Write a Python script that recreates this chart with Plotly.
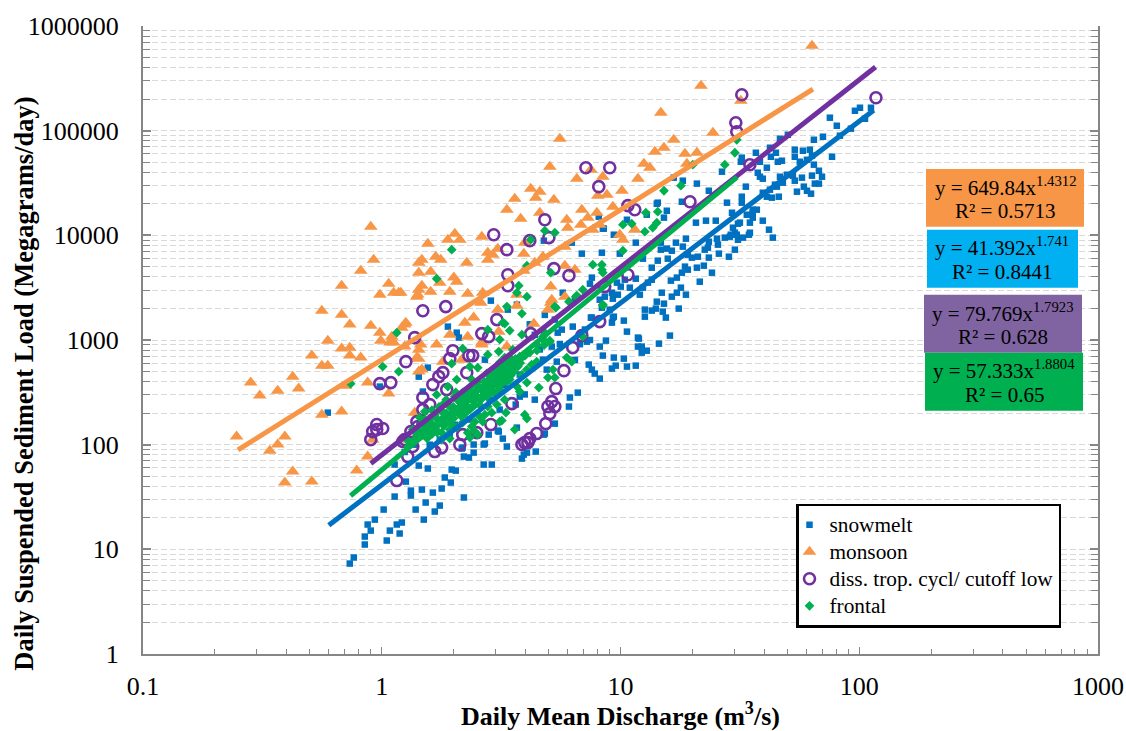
import plotly.graph_objects as go

# Values, as (log10 discharge, log10 load) decades on the log-log axes.
snowmelt = [(-.134,.864),(-.117,.922),(-.071,1.046),(-.071,1.122),(-.046,1.179),(-.059,1.237),(-.029,1.284),(.008,1.38),(.021,1.084),(.034,1.179),(.063,1.237),(.084,1.256),(.075,1.151),(.054,1.504),(.101,1.647),(.122,1.561),(.122,1.514),(.168,1.571),(.142,1.38),(.184,1.447),(.176,1.284),(.222,1.361),(.243,1.418),(.214,1.542),(.251,1.581),(.289,1.638),(.264,1.686),(.293,1.762),(.31,1.752),(.344,1.495),(.155,1.8),(.193,1.772),(.427,1.81),(.461,1.81),(.344,1.886),(.365,1.877),(.385,1.924),(.335,1.963),(.385,2.001),(.427,2.001),(.448,2.096),(.486,2.134),(.507,2.058),(.524,1.982),(.587,1.867),(.595,1.905),(.608,1.924),(.645,1.934),(.683,2.106),(.725,2.201),(.641,2.43),(.561,2.383),(.578,2.459),(.566,2.163),(.784,2.364),(.788,2.45),(.821,2.497),(.913,2.631),(.892,2.679),(.88,2.717),(.867,2.765),(.926,2.851),(.964,2.727),(.98,2.755),(.972,2.832),(1.014,2.822),(1.027,2.746),(1.064,2.755),(.913,2.937),(.939,2.994),(1.014,3.185),(1.027,3.08),(.972,3.223),(.964,3.166),(.876,3.214),(.8,3.128),(.859,2.984),(1.073,3.023),(1.073,2.937),(.155,2.65),(.193,2.736),(.277,3.128),(.314,3.07),(.323,3.023),(.432,2.812),(.457,3.376),(.528,3.29),(.566,3.338),(.172,2.507),(-.008,2.555),(-.226,2.306),
(.838,3.825),(.922,3.834),(.972,4.006),(1.064,3.93),(.93,4.064),(1.027,4.149),(1.156,4.312),(1.194,4.235),(1.182,4.169),(1.316,4.121),(1.358,4.14),(1.399,4.14),(1.446,4.312),(1.508,4.369),(1.508,4.312),(1.467,4.216),(1.5,4.121),(1.554,4.216),(1.542,4.025),(1.479,4.025),(1.458,3.987),(1.492,3.958),(1.437,3.978),(1.404,3.968),(1.37,3.939),(1.408,3.911),(1.479,3.863),(1.454,3.796),(1.412,3.825),(1.366,3.882),(1.353,3.863),(1.37,3.787),(1.274,3.968),(1.232,3.93),(1.169,3.93),(1.169,3.863),(1.194,3.873),(1.215,3.853),(1.261,3.892),(1.282,3.815),(1.299,3.787),(1.324,3.796),(1.198,3.777),(1.156,3.758),(1.094,3.777),(1.131,3.691),(1.27,3.701),(1.257,3.643),(1.282,3.672),(1.32,3.691),(1.349,3.71),(1.383,3.643),(1.332,3.557),(1.236,3.596),(1.211,3.567),(1.131,3.576),(1.115,3.548),(1.094,3.5),(1.064,3.586),(1.001,3.51),(1.018,3.576),(1.039,3.5),(1.081,3.433),(1.173,3.452),(1.253,3.5),(1.236,3.452),(1.274,3.433),(1.215,3.414),(.88,3.596),(.872,3.538),(.934,3.414),(.964,3.452),(.989,3.433),(.968,3.395),(.922,3.309),(1.152,3.366),(1.182,3.347),(1.148,3.3),(1.131,3.281),(1.102,3.29),(1.102,3.223),(1.177,3.271),(1.19,3.214),(1.244,3.3),(.88,3.214),(.968,3.214),(.754,3.099),(1.207,3.042),(1.161,2.965),(1.077,3.013),(1.089,2.937),(1.11,2.898),(1.089,2.879),
(2.003,5.219),(1.982,5.19),(2.049,5.219),(2.024,5.114),(1.877,5.124),(1.906,5.047),(1.965,5.019),(1.919,4.952),(1.848,4.942),(1.81,4.913),(1.668,4.923),(1.701,4.961),(1.626,4.837),(1.567,4.789),(1.651,4.789),(1.63,4.751),(1.73,4.818),(1.764,4.808),(1.73,4.751),(1.793,4.818),(1.802,4.761),(1.886,4.751),(1.751,4.703),(1.781,4.722),(1.81,4.675),(1.659,4.703),(1.676,4.713),(1.584,4.703),(1.508,4.742),(1.504,4.703),(1.613,4.646),(1.575,4.598),(1.584,4.56),(1.596,4.541),(1.831,4.617),(1.844,4.56),(1.802,4.57),(1.76,4.551),(1.73,4.522),(1.722,4.57),(1.668,4.56),(1.697,4.579),(1.647,4.484),(1.68,4.503),(1.626,4.436),(1.655,4.465),(1.634,4.36),(1.663,4.369),(1.596,4.407),(1.613,4.369),(1.831,4.494),(1.814,4.494),(1.768,4.465),(1.739,4.417),(1.781,4.426),(1.798,4.398),(1.525,4.465),(1.554,4.245),(1.571,4.245),(1.529,4.197),(1.554,4.169),(1.542,4.121),(1.492,4.111),(1.471,4.073),(1.596,4.14),(1.622,4.054),(1.638,3.978),(1.538,4.006),(1.513,3.978),(1.487,4.006),(1.462,4.006),(1.261,4.522),(1.32,4.494),(1.37,4.426),(1.425,4.608),(1.257,4.321),(1.223,4.551),(.909,4.178),(.926,4.064),(.796,3.93),(.997,3.825),(1.11,4.197),(1.152,4.302),(.679,3.949),(.985,3.548),(.758,3.452),(.737,3.07),(.712,2.937),(.675,2.812),(.691,2.717),(.733,2.793),(.49,2.125),(.432,2.011),(.339,1.972),(.679,2.096),
(.369,2.24),(.453,2.43),(.515,2.57),(.578,2.67),(.662,2.91),(.306,2.19),(.494,2.335),(.599,2.48),(.746,2.96),(.809,2.81),(.243,2.05),(.285,2.1),(.201,2.0),(.138,2.0),(.096,1.93),(.054,1.81),(.151,2.13),(.83,2.96),(.851,3.1),(.872,3.0),(.725,3.195),(.683,3.24),(.641,3.05),(.62,3.15),(.913,3.385),(.955,3.29),(.809,3.385)]

monsoon = [(-.046,4.083),(-.034,3.767),(-.088,3.662),(-.168,3.519),(.029,3.538),(-.008,3.433),(.05,3.452),(.071,3.452),(.155,3.739),(.155,3.643),(.155,3.481),(.147,3.414),(-.251,3.28),(-.168,3.242),(-.134,3.147),(-.046,3.137),(.101,3.166),(.084,3.118),(-.008,3.07),(.042,3.032),(-.004,2.994),(.034,2.975),(.05,2.975),(.096,2.937),(.155,2.908),(.155,2.822),(-.226,2.994),(-.168,2.918),(-.134,2.927),(-.134,2.851),(-.088,2.832),(-.293,2.851),(-.251,2.755),(-.226,2.755),(-.373,2.65),(-.549,2.593),(-.436,2.516),(-.348,2.536),(-.511,2.469),(-.059,2.593),(-.151,2.564),(.029,2.488),(.155,2.698),(-.168,2.316),(-.251,2.287),(.138,2.306),(-.608,2.077),(-.406,2.077),(-.436,2.001),(-.469,1.943),(-.038,2.048),(-.059,1.886),(-.105,1.752),(-.373,1.743),(-.293,1.647),(-.406,1.638),(.088,2.048),
(.746,4.923),(.704,4.656),(1.144,4.799),(1.098,4.684),(1.123,4.646),(1.073,4.541),(.926,4.56),(.817,4.541),(.876,4.627),(.624,4.446),(.662,4.417),(.645,4.36),(.557,4.35),(.721,4.34),(1.006,4.426),(.943,4.388),(.905,4.379),(.524,4.245),(.582,4.159),(.662,4.216),(.838,4.245),(.901,4.216),(.968,4.274),(.775,4.149),(.863,4.169),(.779,4.073),(.834,4.102),(.884,4.054),(.913,4.102),(.997,4.006),(1.01,3.958),(1.06,4.054),(.419,3.987),(.306,4.016),(.277,3.958),(.327,3.958),(.193,3.92),(.226,3.796),(.247,3.767),(.356,3.739),(.168,3.767),(.205,3.653),(.243,3.548),(.302,3.596),(.314,3.557),(.168,3.519),(.205,3.462),(.285,3.462),(.36,3.443),(.151,3.433),(.08,3.452),(.423,3.452),(.444,3.834),(.486,3.873),(.444,3.767),(.465,3.815),(.595,3.825),(.599,3.93),(.675,3.796),(.641,3.739),(.595,3.662),(.767,3.892),(.767,3.71),(.809,3.672),(.708,3.51),(.566,3.433),(.712,3.385),
(1.802,5.811),(1.337,5.429),(1.504,5.286),(1.169,5.171),(1.387,4.98),(1.223,4.913),(1.182,4.837),(1.27,4.78),(1.32,4.789),(1.278,4.684),(.767,3.414),(.708,3.357),(.696,3.29),
(.348,3.166),(.385,3.214),(.415,3.357),(.486,3.29),(.566,3.328),(.637,3.156),(.285,3.051),(.36,3.032),(.419,2.975),(.49,3.08),(.168,2.717),(.256,2.793),(.335,2.812),(.23,2.956),(.163,2.956),(.147,2.832),(.524,2.937),(.096,3.147),(.419,2.956)]

dissipating = [(1.508,5.343),(2.07,5.315),(1.483,5.076),(1.487,4.99),(1.542,4.675),(.855,4.646),(.955,4.646),(.909,4.465),(1.031,4.284),(1.06,4.245),(1.291,4.321),(.683,4.149),(.7,3.978),(.721,3.682),(.784,3.615),(1.031,3.624),(.934,3.51),(.913,3.176),(.838,3.042),(.8,2.927),(.469,4.006),(.524,3.863),(.62,3.949),(.528,3.624),(.528,3.519),(.172,3.28),(.268,3.319),(.482,3.195),(.419,3.061),(.448,3.032),(.138,3.023),(.101,2.793),(.298,2.898),(.285,2.822),(.381,2.851),(.365,2.851),(.624,3.061),(.763,2.707),(.729,2.536),(.712,2.411),(.696,2.364),(.725,2.364),(.704,2.297),(.687,2.201),(.649,2.106),(.62,2.058),(.599,2.02),(.587,2.001),(.612,2.02),(.545,2.392),(.457,2.192),(.356,2.688),(.256,2.688),(.239,2.65),(.214,2.574),(.172,2.449),(.172,2.335),(.147,2.22),(.172,2.192),(.096,2.049),(.13,1.982),(.109,1.886),(.222,1.934),(.251,1.972),(.398,2.115),(.339,2.096),(.272,2.526),(-.046,2.048),(-.038,2.125),(-.021,2.192),(.004,2.154),(-.021,2.144),(-.008,2.583),(.038,2.593),(.063,1.657),(.088,2.03),(.122,2.125),(.151,2.173),(.201,2.383),(.327,2.0)]

frontal = [(1.487,4.913),(1.479,4.789),(1.437,4.675),(1.303,4.675),(1.253,4.474),(1.182,4.426),(1.106,4.216),(1.156,4.226),(1.01,4.102),(1.047,4.111),(1.152,4.121),(1.135,4.073),(1.102,4.035),(1.01,3.853),(.683,4.044),(.725,4.025),(.884,3.72),(.922,3.72),(.922,3.672),(.926,3.643),(.708,3.643),(.842,3.481),(.817,3.424),(.784,3.366),(.729,3.309),(.926,3.328),(.683,3.07),(.704,2.994),(.675,3.004),(.293,3.863),(.23,3.586),(.624,3.958),(.574,3.519),(.566,3.452),(.608,3.414),(.608,3.71),(.063,3.07),(.004,2.746),(.071,2.698),(-.13,2.583),(.813,3.414),(.524,3.319),(.507,3.166),(.536,3.09),(.587,3.252),(.587,3.051),(.444,3.099),(.49,2.889),(.339,2.918),(.293,2.774),(.444,2.86),(.402,2.736),(.369,2.746),(.649,2.956),(.704,2.984),(.675,3.032),(.775,2.832),(.796,2.793),(.649,2.793),(.608,2.593),(.658,2.545),(.696,2.641),(.725,2.641),(.717,2.717),(.599,2.287),(.608,2.249),(.557,2.144),(.52,2.306),(.494,2.22),(.402,2.096),(.36,2.115),(.377,2.173),(.285,2.058),(.314,2.622),(.277,2.555),(.23,2.478),(.18,2.316),(.256,2.24),(.235,2.125),(.285,2.364),(.335,2.268),(.411,2.268),(.432,2.287),(.536,2.736),(.557,2.793),(.515,2.688),(.494,2.622),(.549,2.688),(.57,2.746),(.465,2.555),(.44,2.526),(.524,2.602),(.482,2.478),(.419,2.459),(.381,2.364),(.348,2.383),(.36,2.507),(.402,2.555),(.377,2.622),(.453,2.622),(.494,2.784),(.515,2.832),(.578,2.841),(.608,2.717),(.587,2.669),(.566,2.555),(.515,2.43),(.482,2.383),(.444,2.364),(.39,2.22),(.327,2.43),(.306,2.459),(.256,2.383),(.159,2.259),(.13,2.144),(.105,2.049),(.189,2.211),(.214,2.173),(.251,2.115),(.285,2.144),(.314,2.163),(.339,2.211),(.369,2.068),(.39,2.125),(.423,2.22),(.461,2.306),(.549,2.908),(.628,2.765),(.578,2.507),(.503,2.23),(.842,3.032),(.926,3.338),(.725,3.319),(.515,3.156),(.494,3.004),(.473,2.669),(.536,2.622),(.486,2.717),(.432,2.478),(.39,2.43),(.335,2.354),(.306,2.316),(.264,2.24),(.222,2.287),(.18,2.144),(.138,2.05),(.494,2.526),(.545,2.812),
(.12,2.02),(.14,2.12),(.16,2.08),(.17,2.2),(.19,2.12),(.2,2.25),(.21,2.33),(.22,2.15),(.24,2.2),(.24,2.36),(.25,2.05),(.26,2.3),(.27,2.43),(.28,2.26),(.29,2.2),(.3,2.36),(.31,2.5),(.32,2.3),(.33,2.4),(.34,2.5),(.35,2.3),(.36,2.44),(.37,2.55),(.38,2.42),(.39,2.5),(.4,2.6),(.41,2.38),(.42,2.52),(.43,2.6),(.44,2.68),(.45,2.5),(.46,2.64),(.47,2.72),(.48,2.58),(.49,2.68),(.5,2.74),(.51,2.6),(.52,2.7),(.53,2.78),(.54,2.66),(.55,2.74),(.56,2.82),(.46,2.7),(.5,2.66),(.52,2.76),(.48,2.66),(.44,2.6),(.54,2.72),(.58,2.78),(.6,2.85),
(.11,1.98),(.13,2.02),(.15,2.15),(.17,2.1),(.18,2.24),(.2,2.15),(.21,2.2),(.23,2.25),(.23,2.12),(.25,2.32),(.26,2.18),(.27,2.3),(.29,2.35),(.3,2.25),(.31,2.32),(.32,2.42),(.33,2.28),(.34,2.36),(.35,2.46),(.36,2.36),(.37,2.34),(.38,2.5),(.39,2.38),(.4,2.46),(.41,2.55),(.42,2.44),(.43,2.54),(.44,2.46),(.45,2.58),(.46,2.5),(.47,2.6),(.47,2.5),(.48,2.62),(.49,2.56),(.5,2.6),(.5,2.7),(.51,2.66),(.51,2.72),(.52,2.64),(.53,2.68),(.53,2.72),(.54,2.76),(.55,2.7),(.56,2.76),(.57,2.8),(.49,2.64),(.47,2.66),(.45,2.62),(.43,2.48),(.41,2.44),(.39,2.44),(.35,2.4),(.33,2.34),(.29,2.28),(.27,2.22),(.25,2.24),(.21,2.1),(.19,2.06),(.59,2.84),(.62,2.88),(.65,2.9),(.68,2.95)]

# Power-law trend lines: end points (discharge, load).
trend_snowmelt = ([0.6, 115], [17, 157000])
trend_monsoon = ([0.25, 64], [89, 250000])
trend_diss = ([0.9, 117], [66, 406000])
trend_frontal = ([0.74, 30.8], [32.5, 36000])

series_names = ["snowmelt", "monsoon", "diss. trop. cycl/ cutoff low", "frontal"]
x_ticks = [0.1, 1, 10, 100, 1000]
x_labels = ["0.1", "1", "10", "100", "1000"]
y_ticks = [1, 10, 100, 1000, 10000, 100000, 1000000]
y_labels = ["1", "10", "100", "1000", "10000", "100000", "1000000"]
equations = [
    ("y = 649.84x<sup>1.4312</sup>", "R² = 0.5713", "#F79646"),
    ("y = 41.392x<sup>1.741</sup>", "R² = 0.8441", "#00B0F0"),
    ("y = 79.769x<sup>1.7923</sup>", "R² = 0.628", "#8064A2"),
    ("y = 57.333x<sup>1.8804</sup>", "R² = 0.65", "#00B050"),
]

BLUE, ORANGE, PURPLE, GREEN = "#0070C0", "#F79646", "#7030A0", "#00B050"
FONT = "Liberation Serif"
W, H = 1126, 731
L, R, T, B = 143, 1098, 26, 654.5


def px(v):
    return (v - L) / (R - L)


def py(v):
    return (B - v) / (B - T)


def minors(first, last):
    return [d * 10.0 ** e for e in range(first, last) for d in range(2, 10)]


def pts(pairs):
    return [10 ** p[0] for p in pairs], [10 ** p[1] for p in pairs]


fig = go.Figure()
styles = [
    (snowmelt, dict(symbol="square", size=6.5, color=BLUE)),
    (monsoon, dict(symbol="triangle-up", size=12, color=ORANGE)),
    (dissipating, dict(symbol="circle-open", size=11, color=PURPLE, line=dict(color=PURPLE, width=2.6))),
    (frontal, dict(symbol="diamond", size=7.5, color=GREEN)),
]
for name, (pairs, marker) in zip(series_names, styles):
    xs, ys = pts(pairs)
    label = f'<span style="font-size:21.3px">{name}</span>'
    fig.add_trace(go.Scatter(x=xs, y=ys, mode="markers", name=label, marker=marker))

for trend, color in [(trend_monsoon, ORANGE), (trend_snowmelt, BLUE), (trend_diss, PURPLE), (trend_frontal, GREEN)]:
    fig.add_trace(go.Scatter(x=trend[0], y=trend[1], mode="lines", showlegend=False, hoverinfo="skip",
                             line=dict(color=color, width=5)))

boxes = [(926, 1084, 169, 227), (927, 1078, 230, 288), (924, 1082, 295, 353), (925, 1083, 353, 411)]
lines = [(1005, 187, 211), (1002, 247, 272), (1002.5, 313, 337), (1004, 370, 395)]
annotations = [dict(text="<b>Daily Suspended Sediment Load (Megagrams/day)</b>", textangle=-90,
                    xref="paper", yref="paper", x=px(24), y=py(384), showarrow=False,
                    xanchor="center", yanchor="middle", font=dict(family=FONT, size=26.5, color="black"))]
shapes = []
for (eq, r2, col), (x0, x1, y0, y1), (cx, y_a, y_b) in zip(equations, boxes, lines):
    shapes.append(dict(type="rect", xref="paper", yref="paper", x0=px(x0), x1=px(x1), y0=py(y1), y1=py(y0),
                       fillcolor=col, line=dict(width=0), layer="above"))
    for text, yy in [(eq, y_a), (r2, y_b)]:
        annotations.append(dict(text=text, xref="paper", yref="paper", x=px(cx), y=py(yy), showarrow=False,
                                xanchor="center", yanchor="middle", font=dict(family=FONT, size=21, color="black")))

fig.update_layout(
    width=W, height=H, margin=dict(l=L, r=W - R, t=T, b=H - B, pad=0),
    paper_bgcolor="white", plot_bgcolor="white",
    font=dict(family=FONT, color="black", size=26),
    shapes=shapes, annotations=annotations,
    legend=dict(x=px(796), y=py(504), xanchor="left", yanchor="top", bgcolor="white",
                bordercolor="black", borderwidth=2.5, font=dict(family=FONT, size=18.5),
                itemwidth=30, tracegroupgap=0, indentation=-9, entrywidth=235, entrywidthmode="pixels"),
    xaxis=dict(type="log", range=[-1, 3], tickmode="array", tickvals=x_ticks, ticktext=x_labels, automargin=False,
               ticks="inside", ticklen=7, tickwidth=1.2, tickcolor="#868686", showgrid=False, zeroline=False,
               showline=True, linecolor="#868686", linewidth=2, ticklabelstandoff=8,
               minor=dict(tickmode="array", tickvals=minors(-1, 3), ticks="inside", ticklen=5, tickwidth=1,
                          tickcolor="#868686", showgrid=False),
               title=dict(text="<b>Daily Mean Discharge (m<sup>3</sup>/s)</b>", font=dict(family=FONT, size=26))),
    yaxis=dict(type="log", range=[0, 6], tickmode="array", tickvals=y_ticks, ticktext=y_labels, automargin=False,
               ticks="inside", ticklen=8, tickwidth=1.5, tickcolor="#868686", zeroline=False,
               showline=True, linecolor="#868686", linewidth=2, mirror="ticks", ticklabelstandoff=17,
               showgrid=True, gridcolor="#d9d9d9", gridwidth=1, griddash="6px,3px",
               minor=dict(tickmode="array", tickvals=minors(0, 6), ticks="inside", ticklen=7, tickwidth=1.2,
                          tickcolor="#868686", showgrid=True, gridcolor="#d9d9d9", gridwidth=1, griddash="6px,3px")),
)
fig.write_html("out.html", config=dict(displayModeBar=False),
               post_script="document.body.style.margin='0';document.documentElement.style.overflow='hidden';")
